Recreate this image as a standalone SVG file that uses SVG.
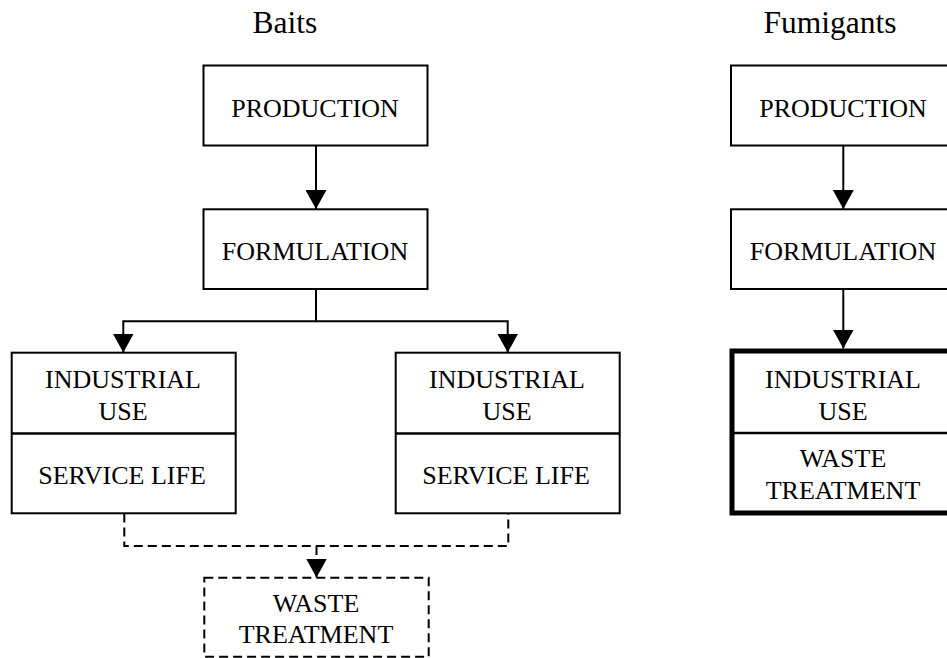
<svg xmlns="http://www.w3.org/2000/svg" width="947" height="658" viewBox="0 0 947 658">
<style>
.box{fill:#fff;stroke:#000;stroke-width:2}
.thick{fill:#fff;stroke:#000;stroke-width:5}
.dbox{fill:#fff;stroke:#000;stroke-width:2;stroke-dasharray:9 5}
.div{stroke:#000;stroke-width:2.5}
.t{font-family:"Liberation Serif","Times New Roman",serif;font-size:26px;fill:#000;text-anchor:middle}
.title{font-family:"Liberation Serif","Times New Roman",serif;font-size:31.5px;fill:#000;text-anchor:middle}
.c{fill:none;stroke:#000;stroke-width:2}
.cd{fill:none;stroke:#000;stroke-width:2;stroke-dasharray:9 5}
</style>
<defs>
<marker id="ah" markerUnits="userSpaceOnUse" markerWidth="19" markerHeight="21" viewBox="0 0 19 21" refX="19" refY="10.5" orient="auto">
<path d="M0,0 L19,10.5 L0,21 z" fill="#000"/>
</marker>
</defs>
<rect width="947" height="658" fill="#fff"/>
<text class="title" x="285" y="33">Baits</text>
<text class="title" x="830" y="33">Fumigants</text>
<g id="connectors">
<path class="c" d="M316,145.5 V209" marker-end="url(#ah)"/>
<path class="c" d="M316,289 V321.3 H123.3 V352.5" marker-end="url(#ah)"/>
<path class="c" d="M316,321.3 H507.7 V352.5" marker-end="url(#ah)"/>
<path class="cd" d="M124.3,513.5 V546 H508.3 V513.5"/>
<path class="cd" d="M316.5,546 V577.5" marker-end="url(#ah)"/>
<path class="c" d="M843.3,145.5 V209" marker-end="url(#ah)"/>
<path class="c" d="M843.3,289 V348.5" marker-end="url(#ah)"/>
</g>
<g id="baits-production">
<rect class="box" x="203.5" y="65.5" width="224" height="80"/>
<text class="t" x="315" y="116.5">PRODUCTION</text>
</g>
<g id="baits-formulation">
<rect class="box" x="203.5" y="209.3" width="224" height="79.7"/>
<text class="t" x="315" y="260">FORMULATION</text>
</g>
<g id="baits-use-left">
<rect class="box" x="11.7" y="352.7" width="224" height="160.6"/>
<line class="div" x1="11.7" y1="433.5" x2="235.7" y2="433.5"/>
<text class="t" x="123" y="388.3">INDUSTRIAL</text>
<text class="t" x="123" y="420">USE</text>
<text class="t" x="122" y="484">SERVICE LIFE</text>
</g>
<g id="baits-use-right">
<rect class="box" x="395.7" y="352.7" width="224" height="160.6"/>
<line class="div" x1="395.7" y1="433.5" x2="619.7" y2="433.5"/>
<text class="t" x="507" y="388.3">INDUSTRIAL</text>
<text class="t" x="507" y="420">USE</text>
<text class="t" x="506" y="484">SERVICE LIFE</text>
</g>
<g id="baits-waste">
<rect class="dbox" x="204.3" y="577.7" width="224.4" height="79"/>
<text class="t" x="316" y="611.7">WASTE</text>
<text class="t" x="316" y="643.3">TREATMENT</text>
</g>
<g id="fum-production">
<rect class="box" x="731" y="65.5" width="224" height="80"/>
<text class="t" x="843" y="116.5">PRODUCTION</text>
</g>
<g id="fum-formulation">
<rect class="box" x="731" y="209.3" width="224" height="79.7"/>
<text class="t" x="843" y="260">FORMULATION</text>
</g>
<g id="fum-use">
<rect class="thick" x="732" y="351" width="224" height="162"/>
<line class="div" x1="732" y1="433" x2="956" y2="433"/>
<text class="t" x="843" y="388.3">INDUSTRIAL</text>
<text class="t" x="843" y="419.5">USE</text>
<text class="t" x="843" y="467">WASTE</text>
<text class="t" x="843" y="498.6">TREATMENT</text>
</g>
</svg>
